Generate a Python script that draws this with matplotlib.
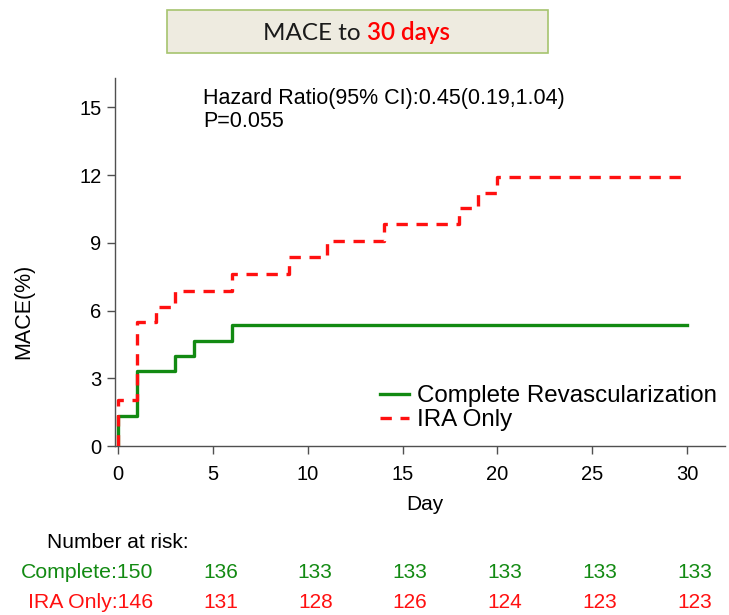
import matplotlib
matplotlib.use("Agg")
import matplotlib.pyplot as plt
from matplotlib.patches import Rectangle
from matplotlib import transforms

plt.rcParams['font.family'] = ['Liberation Sans', 'DejaVu Sans']

# Kaplan-Meier step data (cumulative MACE %)
complete_days = [0, 0, 1, 3, 4, 6, 30]
complete_mace = [0, 1.33, 3.33, 4.0, 4.67, 5.37, 5.37]
ira_days = [0, 0, 1, 2, 3, 6, 9, 11, 14, 18, 19, 20, 30]
ira_mace = [0, 2.05, 5.48, 6.16, 6.85, 7.6, 8.35, 9.08, 9.82, 10.52, 11.2, 11.92, 11.92]

risk_days = [0, 5, 10, 15, 20, 25, 30]
risk_complete = [150, 136, 133, 133, 133, 133, 133]
risk_ira = [146, 131, 128, 126, 124, 123, 123]

xticks = [0, 5, 10, 15, 20, 25, 30]
yticks = [0, 3, 6, 9, 12, 15]

W, H = 729, 615
fig = plt.figure(figsize=(W / 100, H / 100), dpi=100)

pxday = 18.97
x0 = -0.15
x1 = 32.0
left_px = 118 + x0 * pxday
right_px = 118 + x1 * pxday
bot_px, top_px = 446, 78
ax = fig.add_axes([left_px / W, 1 - bot_px / H, (right_px - left_px) / W, (bot_px - top_px) / H])

green = '#128a12'
red = '#ff1010'
ax.step(complete_days, complete_mace, where='post', color=green, lw=2.4,
        label='Complete Revascularization', zorder=3)
ax.step(ira_days, ira_mace, where='post', color=red, lw=2.4, ls=(0, (3.4, 2.6)),
        label='IRA Only', zorder=4)

ax.set_xlim(x0, x1)
ax.set_ylim(0, 16.3)
ax.set_xticks(xticks)
ax.set_yticks(yticks)
for s in ['top', 'right']:
    ax.spines[s].set_visible(False)
for s in ['left', 'bottom']:
    ax.spines[s].set_color('#505050')
    ax.spines[s].set_linewidth(1.0)
ax.tick_params(direction='out', length=6, width=1.0, color='#505050', labelsize=14.5, pad=4)
ax.tick_params(axis='x', pad=8)
ax.set_xlabel('Day', fontsize=15)
ax.set_ylabel('MACE(%)', fontsize=15.5)
ax.xaxis.set_label_coords((425 - left_px) / (right_px - left_px), -(505 - bot_px) / (bot_px - top_px))
ax.yaxis.set_label_coords(-(left_px - 24) / (right_px - left_px), (bot_px - 311) / (bot_px - top_px))
ax.xaxis.label.set_va('center')
ax.yaxis.label.set_va('center')

ax.text((203 - left_px) / (right_px - left_px), (bot_px - 88) / (bot_px - top_px),
        'Hazard Ratio(95% CI):0.45(0.19,1.04)\nP=0.055', transform=ax.transAxes,
        fontsize=15.5, va='top', ha='left', linespacing=1.1)

leg = ax.legend(loc='upper left', bbox_to_anchor=((380 - left_px) / (right_px - left_px), (bot_px - 385) / (bot_px - top_px)),
                frameon=False, fontsize=17.4,
                handlelength=1.2, handletextpad=0.35, labelspacing=0.1, borderaxespad=0, borderpad=0)

# Title box
fig.patches.append(Rectangle((167 / W, 1 - 53 / H), (548 - 167) / W, 43 / H, transform=fig.transFigure,
                             facecolor='#eeebe0', edgecolor='#a6c46e', lw=1.2, zorder=0))
t1 = fig.text(263 / W, 1 - 33 / H, 'MACE to ', fontsize=17.5, va='center', ha='left',
              family=['Lato', 'DejaVu Sans'], color='#1a1a1a')
fig.canvas.draw()
bb = t1.get_window_extent()
fig.text(bb.x1 / W, 1 - 33 / H, '30 days', fontsize=17.5, va='center', ha='left',
         family=['Lato', 'DejaVu Sans'], color='#ff0000', fontweight='semibold')

# Number at risk table
tr = transforms.blended_transform_factory(ax.transData, fig.transFigure)
fig.text(47 / W, 1 - 543 / H, 'Number at risk:', fontsize=15, va='center', ha='left')
for i, d in enumerate(risk_days):
    if i == 0:
        ax.text(1.85, 1 - 573 / H, 'Complete:%d' % risk_complete[i], transform=tr, ha='right', va='center',
                fontsize=15.3, color=green, clip_on=False)
        ax.text(1.85, 1 - 602 / H, 'IRA Only:%d' % risk_ira[i], transform=tr, ha='right', va='center',
                fontsize=15.3, color=red, clip_on=False)
    else:
        ax.text(d + 0.4, 1 - 573 / H, str(risk_complete[i]), transform=tr, ha='center', va='center',
                fontsize=15, color=green, clip_on=False)
        ax.text(d + 0.4, 1 - 602 / H, str(risk_ira[i]), transform=tr, ha='center', va='center',
                fontsize=15, color=red, clip_on=False)

fig.savefig('out.png', dpi=100)
